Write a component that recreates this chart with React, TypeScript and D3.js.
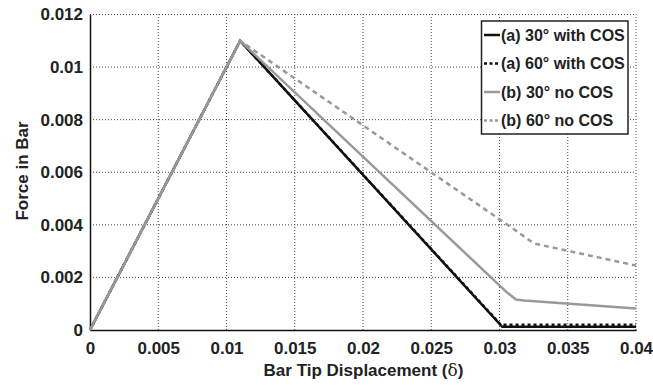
import { useRef, useEffect } from 'react';
import * as d3 from 'd3';

// tick values
const xTicks = [0, 0.005, 0.01, 0.015, 0.02, 0.025, 0.03, 0.035, 0.04];
const yTicks = [0, 0.002, 0.004, 0.006, 0.008, 0.01, 0.012];

// series: [displacement, force]
const a30 = [[0, 0], [0.011, 0.011], [0.0302, 0.00012], [0.04, 0.00012]];
const a60 = [[0, 0], [0.011, 0.011], [0.0301, 0.0002], [0.04, 0.0002]];
const b30 = [[0, 0], [0.011, 0.011], [0.0305, 0.00145], [0.0312, 0.00116], [0.0318, 0.00112], [0.04, 0.00082]];
const b60 = [[0, 0], [0.011, 0.011], [0.0312, 0.00378], [0.0325, 0.0033], [0.0335, 0.00318], [0.04, 0.00245]];

const labels = ['(a) 30\u00b0 with COS', '(a) 60\u00b0 with COS', '(b) 30\u00b0 no COS', '(b) 60\u00b0 no COS'];
const colors = ['#111', '#111', '#999', '#999'];
const dashes = ['none', '3,3', 'none', '5,4'];

const App = () => {
    const svgRef = useRef(null);

    useEffect(() => {
        const svg = d3.select(svgRef.current);
        svg.selectAll('*').remove();

        const left = 90, right = 636, top = 14.5, bottom = 330;
        const font = "'Liberation Sans', Arial, sans-serif";

        const x = d3.scaleLinear().domain([0, 0.04]).range([left, right]);
        const y = d3.scaleLinear().domain([0, 0.012]).range([bottom, top]);

        svg.append('rect').attr('width', 653).attr('height', 385).attr('fill', '#fff');

        // grid
        const grid = svg.append('g')
            .attr('stroke', '#444')
            .attr('stroke-width', 1)
            .attr('stroke-dasharray', '1,2');
        xTicks.filter(d => d > 0).forEach(d => {
            grid.append('line')
                .attr('x1', x(d)).attr('x2', x(d))
                .attr('y1', y(0)).attr('y2', y(0.012));
        });
        yTicks.filter(d => d > 0).forEach(d => {
            grid.append('line')
                .attr('x1', x(0)).attr('x2', x(0.04))
                .attr('y1', y(d)).attr('y2', y(d));
        });

        // axes
        const xAxis = svg.append('g')
            .attr('transform', `translate(0,${bottom})`)
            .call(d3.axisBottom(x).tickValues(xTicks).tickSize(0).tickPadding(8).tickFormat(d => String(+d)));
        const yAxis = svg.append('g')
            .attr('transform', `translate(${left},0)`)
            .call(d3.axisLeft(y).tickValues(yTicks).tickSize(0).tickPadding(7).tickFormat(d => String(+d)));

        [xAxis, yAxis].forEach(g => {
            g.select('.domain').attr('stroke', '#111').attr('stroke-width', 1.5);
            g.selectAll('text')
                .attr('font-family', font)
                .attr('font-weight', 'bold')
                .attr('font-size', 17)
                .attr('fill', '#222');
        });
        xAxis.selectAll('text').attr('dy', '0.95em');

        // lines
        const line = d3.line().x(d => x(d[0])).y(d => y(d[1]));
        [a30, a60, b30, b60].forEach((s, i) => {
            svg.append('path')
                .datum(s)
                .attr('d', line)
                .attr('fill', 'none')
                .attr('stroke', colors[i])
                .attr('stroke-width', 2.5)
                .attr('stroke-dasharray', dashes[i]);
        });

        // axis titles
        svg.append('text')
            .attr('x', 363.5).attr('y', 376)
            .attr('text-anchor', 'middle')
            .attr('font-family', font)
            .attr('font-weight', 'bold')
            .attr('font-size', 17)
            .attr('fill', '#222')
            .text('Bar Tip Displacement (')
            .append('tspan').attr('font-weight', 'normal').attr('font-family', "'DejaVu Serif', serif").text('\u03b4')
            .select(function () { return this.parentNode; })
            .append('tspan').text(')');

        svg.append('text')
            .attr('transform', 'translate(28,171) rotate(-90)')
            .attr('text-anchor', 'middle')
            .attr('font-family', font)
            .attr('font-weight', 'bold')
            .attr('font-size', 17)
            .attr('fill', '#222')
            .text('Force in Bar');

        // legend
        const lg = svg.append('g');
        lg.append('rect')
            .attr('x', 481.5).attr('y', 21)
            .attr('width', 146.5).attr('height', 113)
            .attr('fill', '#fff')
            .attr('stroke', '#222')
            .attr('stroke-width', 1.5);
        labels.forEach((t, i) => {
            const yy = 35 + i * 28.5;
            lg.append('line')
                .attr('x1', 484).attr('x2', 500)
                .attr('y1', yy).attr('y2', yy)
                .attr('stroke', colors[i])
                .attr('stroke-width', 2.5)
                .attr('stroke-dasharray', dashes[i] === 'none' ? 'none' : '3,2.5');
            lg.append('text')
                .attr('x', 501).attr('y', yy)
                .attr('dy', '0.35em')
                .attr('font-family', font)
                .attr('font-weight', 'bold')
                .attr('font-size', 16)
                .attr('fill', '#222')
                .text(t);
        });
    }, []);

    return (
        <svg ref={svgRef} width={653} height={385} style={{ position: 'absolute', left: 0, top: 0 }} />
    );
};

export default App;
